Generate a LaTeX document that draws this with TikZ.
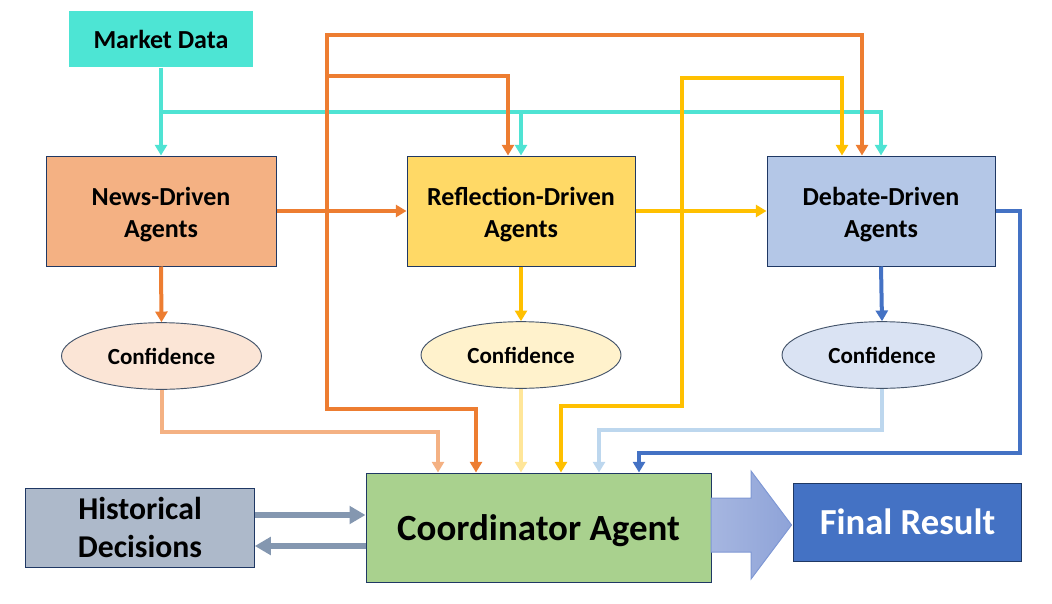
\documentclass[tikz,border=0pt]{standalone}
\usepackage{fontspec}
\setmainfont{Carlito}
\usetikzlibrary{arrows.meta,shapes.geometric}
\definecolor{mdc}{HTML}{4DE5D4}
\definecolor{newsc}{HTML}{F4B183}
\definecolor{reflc}{HTML}{FFD966}
\definecolor{debc}{HTML}{B4C7E7}
\definecolor{confa}{HTML}{FBE5D6}
\definecolor{confb}{HTML}{FFF2CC}
\definecolor{confc}{HTML}{DAE3F3}
\definecolor{coordc}{HTML}{A9D18E}
\definecolor{histc}{HTML}{ADB9CA}
\definecolor{finalc}{HTML}{4472C4}
\definecolor{bordc}{HTML}{1F3864}
\definecolor{ellc}{HTML}{44546A}
\definecolor{orc}{HTML}{ED7D31}
\definecolor{yec}{HTML}{FFC000}
\definecolor{blc}{HTML}{4472C4}
\definecolor{cyc}{HTML}{4FE3D3}
\definecolor{loc}{HTML}{F4B183}
\definecolor{lyc}{HTML}{FFE699}
\definecolor{lbc}{HTML}{BDD7EE}
\definecolor{grc}{HTML}{8497B0}
\definecolor{arra}{HTML}{A6B6E0}
\definecolor{arrb}{HTML}{8EA3D8}
\definecolor{arrd}{HTML}{7F98D4}
\begin{document}
\begin{tikzpicture}[x=0.75pt,y=-0.75pt,
  box/.style={draw=bordc, line width=0.75pt, align=center, inner sep=2pt,
    font=\bfseries\fontsize{19.5pt}{24pt}\selectfont},
  btext/.style={align=center, inner sep=0pt, yshift=-2.6pt,
    font=\bfseries\fontsize{19.5pt}{24pt}\selectfont},
  ctext/.style={align=center, inner sep=0pt, yshift=-2.6pt,
    font=\bfseries\fontsize{27.7pt}{32pt}\selectfont},
  confnode/.style={ellipse, draw=ellc, line width=0.7pt, inner sep=0pt,
    minimum width=150pt, minimum height=50pt,
    font=\bfseries\fontsize{17.3pt}{20pt}\selectfont},
  conn/.style={line width=3pt, -{Triangle[length=8pt,width=9pt]}},
  harrow/.style={grc, line width=4.5pt, -{Triangle[length=12pt,width=13pt]}}
]
\useasboundingbox (0,0) rectangle (1052,603);

% nodes
\node[box, draw=none, fill=mdc, minimum width=138pt, minimum height=42pt] (md) at (161,39) {Market Data};
\node[box, fill=newsc, minimum width=172.5pt, minimum height=82.5pt,
  label={[btext]center:{News-Driven\\Agents}}] (news) at (161,211) {};
\node[box, fill=reflc, minimum width=171pt, minimum height=82.5pt,
  label={[btext]center:{Reflection-Driven\\Agents}}] (refl) at (521,211) {};
\node[box, fill=debc, minimum width=171pt, minimum height=82.5pt,
  label={[btext]center:{Debate-Driven\\Agents}}] (deb) at (881,211) {};
\node[confnode, fill=confa] (c1) at (161.5,356) {Confidence};
\node[confnode, fill=confb] (c2) at (521,355) {Confidence};
\node[confnode, fill=confc] (c3) at (882,355) {Confidence};
\node[box, fill=coordc, minimum width=258.75pt, minimum height=81.75pt,
  label={[ctext]center:{Coordinator Agent}}] (coord) at (538.5,527.5) {};
\node[box, fill=histc, minimum width=171.4pt, minimum height=59.25pt,
  font=\bfseries\fontsize{23.8pt}{28.5pt}\selectfont] (hist) at (140,527.5) {Historical\\Decisions};
\node[box, fill=finalc, text=white, minimum width=171pt, minimum height=58.5pt,
  font=\bfseries\fontsize{27.5pt}{32pt}\selectfont] (final) at (907.5,522) {Final Result};

% junctions
\coordinate (cj) at (161,112);
\coordinate (oj) at (327,211);
\coordinate (yj) at (682,211);

% cyan (market data)
\draw[conn, cyc] (md.south) -- (news.north);
\draw[conn, cyc] (cj) -| (refl.north);
\draw[conn, cyc] (cj) -| (deb.north);

% orange (news)
\draw[conn, orc] (news.east) -- (refl.west);
\draw[conn, orc] (oj) -- (327,76) -| ([xshift=-9.75pt]refl.north);
\draw[conn, orc] (oj) -- (327,35) -| ([xshift=-14.25pt]deb.north);
\draw[conn, orc] (oj) -- (327,409) -| ([xshift=-46.875pt]coord.north);
\draw[conn, orc] (news.south) -- (c1.north);

% yellow (reflection)
\draw[conn, yec] (refl.east) -- (deb.west);
\draw[conn, yec] (yj) -- (682,78) -| ([xshift=-29.25pt]deb.north);
\draw[conn, yec] (yj) -- (682,406) -| ([xshift=16.875pt]coord.north);
\draw[conn, yec] (refl.south) -- (c2.north);

% blue (debate)
\draw[conn, blc] (deb.south) -- (c3.north);
\draw[conn, blc] (deb.east) -- (1020,211) -- (1020,453) -| ([xshift=75.375pt]coord.north);

% confidence to coordinator
\draw[conn, loc] (c1.south) -- (161.5,432) -| ([xshift=-75.375pt]coord.north);
\draw[conn, lyc] (c2.south) -- (c2.south |- coord.north);
\draw[conn, lbc] (c3.south) -- (882,430) -| ([xshift=45.375pt]coord.north);

% historical decisions
\draw[harrow] (hist.east |- 0,515) -- (coord.west |- 0,515);
\draw[harrow] (coord.west |- 0,546) -- (hist.east |- 0,546);

% big arrow to final result
\shade[left color=arra, right color=arrb, draw=arrd, line width=0.75pt]
  (711,498) -- (751,498) -- (751,471) -- (791.5,525) -- (751,579) -- (751,552) -- (711,552) -- cycle;
\end{tikzpicture}
\end{document}
